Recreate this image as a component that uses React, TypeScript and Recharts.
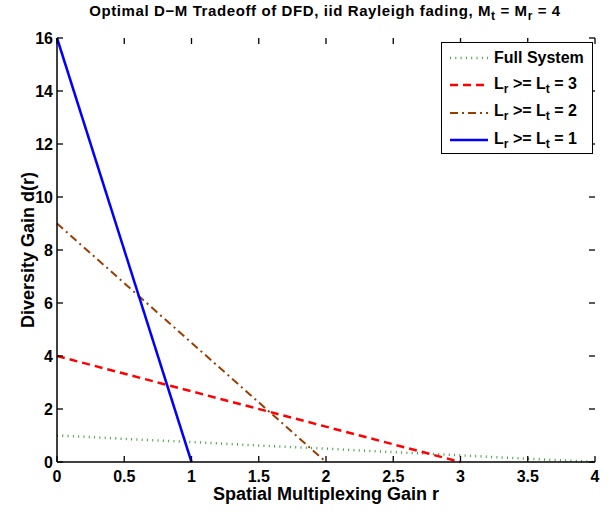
import React from "react";
import { LineChart, Line, XAxis, YAxis } from "recharts";

const FONT = '"Liberation Sans", Arial, Helvetica, sans-serif';

// axis ticks
const xTicks = [0, 0.5, 1, 1.5, 2, 2.5, 3, 3.5, 4];
const yTicks = [0, 2, 4, 6, 8, 10, 12, 14, 16];

// spatial multiplexing gain r / diversity gain d(r) per curve
const fullR = [0, 4];
const fullD = [1, 0];
const l3R = [0, 3];
const l3D = [4, 0];
const l2R = [0, 2];
const l2D = [9, 0];
const l1R = [0, 1];
const l1D = [16, 0];

const toPoints = (rs: number[], ds: number[]) =>
  rs.map((r, i) => ({ r, d: ds[i] }));

const series = [
  { key: "full", lt: null, data: toPoints(fullR, fullD), color: "#42a042", width: 2.5, dash: "1 4.3" },
  { key: "l3", lt: 3, data: toPoints(l3R, l3D), color: "#ff0000", width: 2.5, dash: "8 5" },
  { key: "l2", lt: 2, data: toPoints(l2R, l2D), color: "#993d00", width: 2, dash: "8 4 2 4" },
  { key: "l1", lt: 1, data: toPoints(l1R, l1D), color: "#0000ff", width: 2.5, dash: undefined },
];

const PLOT_W = 538;
const PLOT_H = 424;

const XTick = (props: any) => {
  const { x, y, payload } = props;
  return (
    <g>
      <line x1={x} y1={y} x2={x} y2={y - 6} stroke="#000" strokeWidth={1.3} />
      <line x1={x} y1={y - PLOT_H} x2={x} y2={y - PLOT_H + 6} stroke="#000" strokeWidth={1.3} />
      <text x={x} y={y + 20} textAnchor="middle" fontFamily={FONT} fontWeight="bold" fontSize={16} fill="#000">
        {payload.value}
      </text>
    </g>
  );
};

const YTick = (props: any) => {
  const { x, y, payload } = props;
  return (
    <g>
      <line x1={x} y1={y} x2={x + 6} y2={y} stroke="#000" strokeWidth={1.3} />
      <line x1={x + PLOT_W} y1={y} x2={x + PLOT_W - 6} y2={y} stroke="#000" strokeWidth={1.3} />
      <text x={x - 4} y={y + 6} textAnchor="end" fontFamily={FONT} fontWeight="bold" fontSize={16} fill="#000">
        {payload.value}
      </text>
    </g>
  );
};

const LegendBox = () => (
  <div
    style={{
      position: "absolute",
      left: 441,
      top: 42,
      width: 152,
      height: 112,
      border: "1.5px solid #000",
      background: "#fff",
      fontFamily: FONT,
      fontWeight: "bold",
      fontSize: 16,
      boxSizing: "border-box",
      paddingTop: 1,
    }}
  >
    {series.map((s) => (
      <div key={s.key} style={{ display: "flex", alignItems: "center", height: 27.5 }}>
        <svg width={44} height={10} style={{ marginLeft: 6, marginRight: 2 }}>
          <line x1={2} y1={5} x2={40} y2={5} stroke={s.color} strokeWidth={s.width} strokeDasharray={s.dash} />
        </svg>
        {s.lt === null ? (
          <span>Full System</span>
        ) : (
          <span>
            L<sub style={{ fontSize: 12 }}>r</sub> &gt;= L<sub style={{ fontSize: 12 }}>t</sub> = {s.lt}
          </span>
        )}
      </div>
    ))}
  </div>
);

export default function App() {
  return (
    <div style={{ position: "absolute", left: 0, top: 0, width: 611, height: 514, background: "#fff" }}>
      <LineChart width={611} height={514} margin={{ top: 38, right: 16, bottom: 0, left: 0 }}>
        <XAxis
          dataKey="r"
          type="number"
          domain={[0, 4]}
          ticks={xTicks}
          height={52}
          tickSize={0}
          tickMargin={0}
          tickLine={false}
          tick={<XTick />}
          axisLine={{ stroke: "#000", strokeWidth: 1.5 }}
          allowDuplicatedCategory={false}
        />
        <XAxis
          xAxisId="top"
          orientation="top"
          type="number"
          domain={[0, 4]}
          height={0}
          tick={false}
          tickLine={false}
          axisLine={{ stroke: "#000", strokeWidth: 1.5 }}
        />
        <YAxis
          type="number"
          domain={[0, 16]}
          ticks={yTicks}
          width={57}
          tickSize={0}
          tickMargin={0}
          tickLine={false}
          tick={<YTick />}
          axisLine={{ stroke: "#000", strokeWidth: 1.5 }}
        />
        <YAxis
          yAxisId="right"
          orientation="right"
          type="number"
          domain={[0, 16]}
          width={0}
          tick={false}
          tickLine={false}
          axisLine={{ stroke: "#000", strokeWidth: 1.5 }}
        />
        {series.map((s) => (
          <Line
            key={s.key}
            data={s.data}
            dataKey="d"
            type="linear"
            stroke={s.color}
            strokeWidth={s.width}
            strokeDasharray={s.dash}
            dot={false}
            activeDot={false}
            isAnimationActive={false}
          />
        ))}
      </LineChart>
      <div
        style={{
          position: "absolute",
          left: 0,
          width: 650,
          top: 2,
          textAlign: "center",
          fontFamily: FONT,
          fontWeight: "bold",
          fontSize: 15,
          letterSpacing: 0.6,
          whiteSpace: "nowrap",
        }}
      >
        Optimal D−M Tradeoff of DFD, iid Rayleigh fading, M<sub style={{ fontSize: 12 }}>t</sub> = M
        <sub style={{ fontSize: 12 }}>r</sub> = 4
      </div>
      <div
        style={{
          position: "absolute",
          left: 0,
          width: 652,
          top: 484,
          textAlign: "center",
          fontFamily: FONT,
          fontWeight: "bold",
          fontSize: 18,
        }}
      >
        Spatial Multiplexing Gain r
      </div>
      <div
        style={{
          position: "absolute",
          left: 28,
          top: 250,
          transform: "translate(-50%, -50%) rotate(-90deg)",
          whiteSpace: "nowrap",
          fontFamily: FONT,
          fontWeight: "bold",
          fontSize: 18,
        }}
      >
        Diversity Gain d(r)
      </div>
      <LegendBox />
    </div>
  );
}
